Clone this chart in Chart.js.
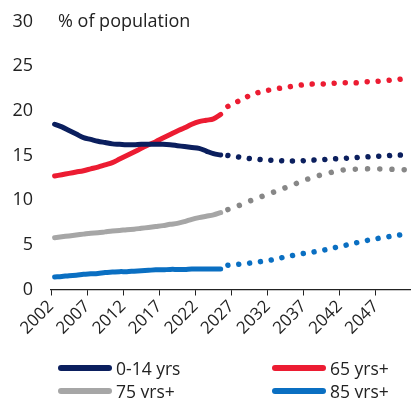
<!DOCTYPE html>
<html>
<head>
<meta charset="utf-8">
<script src="https://cdn.jsdelivr.net/npm/chart.js@4.4.1/dist/chart.umd.min.js"></script>
<style>
  html, body { margin: 0; padding: 0; background: #fff; }
  #wrap { position: relative; width: 411px; height: 398px; overflow: hidden; font-family: "Open Sans", sans-serif; color: #222; }
  #chart { position: absolute; left: 0; top: 0; }
  .item { position: absolute; height: 24px; display: flex; align-items: center; font-size: 17.5px; white-space: nowrap; }
  .swatch { width: 54px; height: 6px; border-radius: 3px; margin-right: 4px; }
</style>
</head>
<body>
<div id="wrap">
  <canvas id="chart" width="411" height="398"></canvas>
  <div id="legend"></div>
</div>
<script>
// Share of population by age group, % (historical to 2025, projection after)
const histYears = [2002, 2003, 2004, 2005, 2006, 2007, 2008, 2009, 2010, 2011, 2012, 2013,
                   2014, 2015, 2016, 2017, 2018, 2019, 2020, 2021, 2022, 2023, 2024, 2025];
const projYears = [2026, 2027, 2028, 2029, 2030, 2031, 2032, 2033, 2034, 2035, 2036, 2037, 2038,
                   2039, 2040, 2041, 2042, 2043, 2044, 2045, 2046, 2047, 2048, 2049, 2050, 2051];

const age0to14Hist = [18.5, 18.2, 17.8, 17.4, 17.0, 16.8, 16.6, 16.45, 16.3, 16.25, 16.2, 16.2,
                      16.25, 16.25, 16.25, 16.25, 16.2, 16.1, 16.0, 15.9, 15.8, 15.5, 15.2, 15.05];
const age0to14Proj = [15.0, 14.9, 14.75, 14.65, 14.58, 14.5, 14.47, 14.43, 14.38, 14.38, 14.4, 14.45, 14.5,
                      14.53, 14.58, 14.63, 14.68, 14.73, 14.78, 14.83, 14.88, 14.93, 14.97, 15.02, 15.05, 15.1];

const age65Hist = [12.7, 12.85, 13.0, 13.15, 13.3, 13.5, 13.7, 13.95, 14.2, 14.6, 15.0, 15.4,
                   15.8, 16.2, 16.55, 16.95, 17.35, 17.75, 18.1, 18.5, 18.8, 18.95, 19.1, 19.6];
const age65Proj = [20.5, 20.9, 21.3, 21.7, 22.0, 22.2, 22.37, 22.5, 22.63, 22.75, 22.87, 22.97, 23.0,
                   23.0, 23.05, 23.1, 23.13, 23.13, 23.15, 23.25, 23.28, 23.33, 23.4, 23.47, 23.55, 23.7];

const age75Hist = [5.8, 5.9, 6.0, 6.1, 6.2, 6.3, 6.35, 6.45, 6.55, 6.6, 6.7, 6.75,
                   6.85, 6.95, 7.05, 7.15, 7.3, 7.4, 7.6, 7.85, 8.05, 8.2, 8.35, 8.6];
const age75Proj = [8.95, 9.25, 9.55, 9.9, 10.2, 10.5, 10.8, 11.1, 11.4, 11.7, 12.05, 12.35, 12.6,
                   12.85, 13.05, 13.25, 13.38, 13.45, 13.48, 13.5, 13.51, 13.5, 13.48, 13.45, 13.43, 13.4];

const age85Hist = [1.4, 1.45, 1.55, 1.6, 1.7, 1.75, 1.8, 1.9, 1.95, 2.0, 2.0, 2.05,
                   2.1, 2.15, 2.2, 2.2, 2.25, 2.25, 2.25, 2.3, 2.3, 2.3, 2.3, 2.3];
const age85Proj = [2.72, 2.8, 2.86, 2.95, 3.06, 3.18, 3.3, 3.48, 3.65, 3.82, 3.97, 4.1, 4.22,
                   4.38, 4.52, 4.72, 4.9, 5.08, 5.27, 5.45, 5.6, 5.75, 5.88, 6.0, 6.13, 6.25];

const xTickYears = [2002, 2007, 2012, 2017, 2022, 2027, 2032, 2037, 2042, 2047];
const yTickValues = [0, 5, 10, 15, 20, 25, 30];
const axisTitle = "% of population";

const series = [
  { label: "0-14 yrs", hist: age0to14Hist, proj: age0to14Proj, color: "#0b1f5e", projColor: "#0b1f5e", gap: 10.8 },
  { label: "65 yrs+",  hist: age65Hist,    proj: age65Proj,    color: "#ec1c32", projColor: "#ec1c32", gap: 11.0 },
  { label: "75 yrs+",  hist: age75Hist,    proj: age75Proj,    color: "#a6a6a6", projColor: "#878787", gap: 12.2 },
  { label: "85 yrs+",  hist: age85Hist,    proj: age85Proj,    color: "#0a6fc2", projColor: "#0a6fc2", gap: 10.9 }
];

// annual values are plotted at mid-year
const toPoints = (years, vals) => years.map((yr, i) => ({ x: yr + 0.5, y: vals[i] }));

const datasets = [];
series.forEach(s => {
  datasets.push({
    label: s.label,
    data: toPoints(histYears, s.hist),
    borderColor: s.color,
    borderWidth: 5,
    borderCapStyle: "round",
    borderJoinStyle: "round",
    pointRadius: 0,
    tension: 0.35
  });
  datasets.push({
    label: s.label + " (projection)",
    data: toPoints(projYears, s.proj),
    borderColor: s.projColor,
    borderWidth: 5.5,
    borderCapStyle: "round",
    borderDash: [0.01, s.gap],
    pointRadius: 0,
    tension: 0.35
  });
});

const FONT = "'Open Sans', sans-serif";

const titlePlugin = {
  id: "axisTitle",
  afterDraw(chart) {
    const { ctx, scales } = chart;
    ctx.save();
    ctx.font = "18px " + FONT;
    ctx.fillStyle = "#222";
    ctx.textAlign = "left";
    ctx.textBaseline = "middle";
    ctx.fillText(axisTitle, 58, scales.y.getPixelForValue(30));
    ctx.restore();
  }
};

new Chart(document.getElementById("chart"), {
  type: "line",
  data: { datasets },
  options: {
    responsive: false,
    animation: false,
    layout: { padding: { top: 21.5, right: 1, left: 0, bottom: 0 } },
    plugins: { legend: { display: false }, tooltip: { enabled: false } },
    scales: {
      x: {
        type: "linear",
        min: 2002,
        max: 2051.72,
        afterBuildTicks: s => { s.ticks = xTickYears.map(v => ({ value: v })); },
        afterFit: s => { s.height = 398 - 289.5; },
        grid: { display: true, drawOnChartArea: false, drawTicks: true, tickLength: 6, color: "#222", lineWidth: 1 },
        border: { display: true, color: "#222", width: 1.2 },
        ticks: {
          autoSkip: false, minRotation: 45, maxRotation: 45, padding: 1,
          color: "#222", font: { family: FONT, size: 17 },
          callback: v => String(v)
        }
      },
      y: {
        min: 0,
        max: 30,
        afterBuildTicks: s => { s.ticks = yTickValues.map(v => ({ value: v })); },
        afterFit: s => { s.width = 51; s.paddingTop = 0; s.paddingBottom = 0; },
        grid: { display: false, drawTicks: false },
        border: { display: false },
        ticks: { padding: 18, color: "#222", font: { family: FONT, size: 18 }, callback: v => String(v) }
      }
    }
  },
  plugins: [titlePlugin]
});

// two-column legend under the axis
const legendPos = [
  { left: 58, top: 356 }, { left: 272, top: 356 },
  { left: 58, top: 379 }, { left: 272, top: 379 }
];
const legendOrder = [0, 1, 2, 3];
const legendEl = document.getElementById("legend");
legendOrder.forEach((idx, k) => {
  const s = series[idx];
  const item = document.createElement("div");
  item.className = "item";
  item.style.left = legendPos[k].left + "px";
  item.style.top = legendPos[k].top + "px";
  const sw = document.createElement("span");
  sw.className = "swatch";
  sw.style.background = s.color;
  const tx = document.createElement("span");
  tx.textContent = s.label;
  item.appendChild(sw);
  item.appendChild(tx);
  legendEl.appendChild(item);
});
</script>
</body>
</html>
